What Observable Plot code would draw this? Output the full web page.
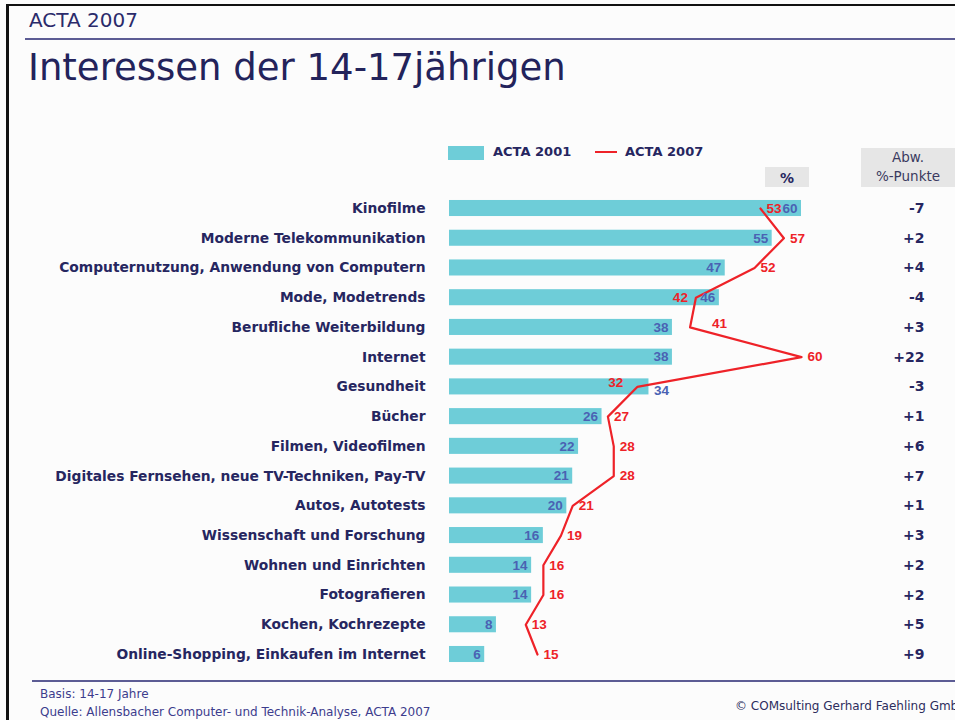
<!DOCTYPE html>
<html>
<head>
<meta charset="utf-8">
<script src="https://cdn.jsdelivr.net/npm/d3@7"></script>
<script src="https://cdn.jsdelivr.net/npm/@observablehq/plot@0.6"></script>
<style>
  html, body { margin: 0; padding: 0; background: #fcfcfc; }
  #wrap { position: relative; width: 955px; height: 720px; overflow: hidden; font-family: "DejaVu Sans", sans-serif; }
  .abs { position: absolute; white-space: nowrap; }
  #frame { left: 6px; top: 4px; width: 1000px; height: 800px; border-top: 2px solid #111; border-left: 3px solid #111; }
  #kicker { left: 29px; top: 8px; font-size: 20px; color: #2b2b6b; line-height: 24px; }
  #rule1 { left: 25px; top: 38px; width: 940px; height: 2px; background: #5c5c94; }
  #title { left: 28px; top: 43px; font-size: 37px; color: #23235b; line-height: 50px; }
  .leg { font-size: 13px; font-weight: bold; color: #262660; line-height: 14px; }
  #pct { left: 765px; top: 167px; width: 44px; height: 20px; background: #e6e6e6; text-align: center; font-weight: bold; font-size: 14px; line-height: 22px; color: #262660; }
  #abw { left: 861px; top: 148px; width: 94px; height: 39px; background: #e6e6e6; text-align: center; font-size: 13.5px; line-height: 19px; color: #3a3a60; }
  #rule2 { left: 32px; top: 680px; width: 930px; height: 2px; background: #5c5c94; }
  .foot { font-size: 12px; color: #3d3d8d; line-height: 14px; }
  #plot { position: absolute; left: 0; top: 0; }
</style>
</head>
<body>
<div id="wrap">
  <div class="abs" id="frame"></div>
  <div class="abs" id="kicker">ACTA 2007</div>
  <div class="abs" id="rule1"></div>
  <div class="abs" id="title">Interessen der 14-17jährigen</div>
  <div class="abs" style="left:448px;top:146px;width:36px;height:14px;background:#6ecdd8"></div>
  <div class="abs leg" style="left:493px;top:145px">ACTA 2001</div>
  <div class="abs" style="left:595px;top:151px;width:22px;height:2px;background:#ee2228"></div>
  <div class="abs leg" style="left:625px;top:145px">ACTA 2007</div>
  <div class="abs" id="pct">%</div>
  <div class="abs" id="abw">Abw.<br>%-Punkte</div>
  <div class="abs" id="rule2"></div>
  <div class="abs foot" style="left:40px;top:687px">Basis: 14-17 Jahre</div>
  <div class="abs foot" style="left:40px;top:705px">Quelle: Allensbacher Computer- und Technik-Analyse, ACTA 2007</div>
  <div class="abs foot" style="left:735px;top:699px;color:#2d2d5d">© COMsulting Gerhard Faehling GmbH</div>
  <div id="plot"></div>
</div>
<script>
const categories = [
  "Kinofilme",
  "Moderne Telekommunikation",
  "Computernutzung, Anwendung von Computern",
  "Mode, Modetrends",
  "Berufliche Weiterbildung",
  "Internet",
  "Gesundheit",
  "Bücher",
  "Filmen, Videofilmen",
  "Digitales Fernsehen, neue TV-Techniken, Pay-TV",
  "Autos, Autotests",
  "Wissenschaft und Forschung",
  "Wohnen und Einrichten",
  "Fotografieren",
  "Kochen, Kochrezepte",
  "Online-Shopping, Einkaufen im Internet"
];
const acta2001 = [60, 55, 47, 46, 38, 38, 34, 26, 22, 21, 20, 16, 14, 14, 8, 6];
const acta2007 = [53, 57, 52, 42, 41, 60, 32, 27, 28, 28, 21, 19, 16, 16, 13, 15];
const abwLabels = ["-7", "+2", "+4", "-4", "+3", "+22", "-3", "+1", "+6", "+7", "+1", "+3", "+2", "+2", "+5", "+9"];

const rows = categories.map((c, i) => ({
  cat: c, v01: acta2001[i], v07: acta2007[i], abw: abwLabels[i],
  close: acta2001[i] > acta2007[i] && acta2001[i] - acta2007[i] <= 4,
  veryClose: acta2001[i] > acta2007[i] && acta2001[i] - acta2007[i] < 3,
  jumpNext: i + 1 < acta2007.length && acta2007[i + 1] - acta2007[i] > 10
}));

const navy = "#262660";
const blue = "#4a62b3";
const red = "#ee2228";
const numFont = "Liberation Sans, Arial, sans-serif";
const numSize = 13.5;

const chart = Plot.plot({
  width: 955,
  height: 680,
  marginRight: 31,
  style: { background: "transparent", fontFamily: "DejaVu Sans, sans-serif", overflow: "visible" },
  x: { domain: [0, 60], range: [449, 801], axis: null },
  y: { domain: categories, range: [186.3, 675.7], padding: 0.46, round: false, axis: null },
  marks: [
    Plot.barX(rows, { x: "v01", y: "cat", fill: "#6ecdd8" }),
    Plot.text(rows, { x: () => 0, y: "cat", text: "cat", textAnchor: "end", dx: -24,
      fill: navy, fontWeight: "bold", fontSize: 13.8 }),
    Plot.line(rows, { x: "v07", y: "cat", stroke: red, strokeWidth: 2.2, curve: "linear" }),
    // blue labels at bar end
    Plot.text(rows.filter(d => !d.veryClose), { x: "v01", y: "cat", text: d => String(d.v01), textAnchor: "end", dx: -4,
      fill: blue, fontWeight: "bold", fontSize: numSize, fontFamily: numFont }),
    Plot.text(rows.filter(d => d.veryClose), { x: "v01", y: "cat", text: d => String(d.v01), textAnchor: "start", dx: 5, dy: 4,
      fill: blue, fontWeight: "bold", fontSize: numSize, fontFamily: numFont }),
    // red labels
    Plot.text(rows.filter(d => !d.close && !d.jumpNext), { x: "v07", y: "cat", text: d => String(d.v07), textAnchor: "start", dx: 6,
      fill: red, fontWeight: "bold", fontSize: numSize, fontFamily: numFont }),
    Plot.text(rows.filter(d => !d.close && d.jumpNext), { x: "v07", y: "cat", text: d => String(d.v07), textAnchor: "start", dx: 22, dy: -4,
      fill: red, fontWeight: "bold", fontSize: numSize, fontFamily: numFont }),
    Plot.text(rows.filter(d => d.close && !d.veryClose), { x: "v07", y: "cat", text: d => String(d.v07), textAnchor: "end", dx: -8,
      fill: red, fontWeight: "bold", fontSize: numSize, fontFamily: numFont }),
    Plot.text(rows.filter(d => d.veryClose), { x: "v07", y: "cat", text: d => String(d.v07), textAnchor: "end", dx: -14, dy: -4,
      fill: red, fontWeight: "bold", fontSize: numSize, fontFamily: numFont }),
    // Abw. column
    Plot.text(rows, { y: "cat", text: "abw", frameAnchor: "right", textAnchor: "end",
      fill: navy, fontWeight: "bold", fontSize: 14 })
  ]
});
document.getElementById("plot").appendChild(chart);
</script>
</body>
</html>
